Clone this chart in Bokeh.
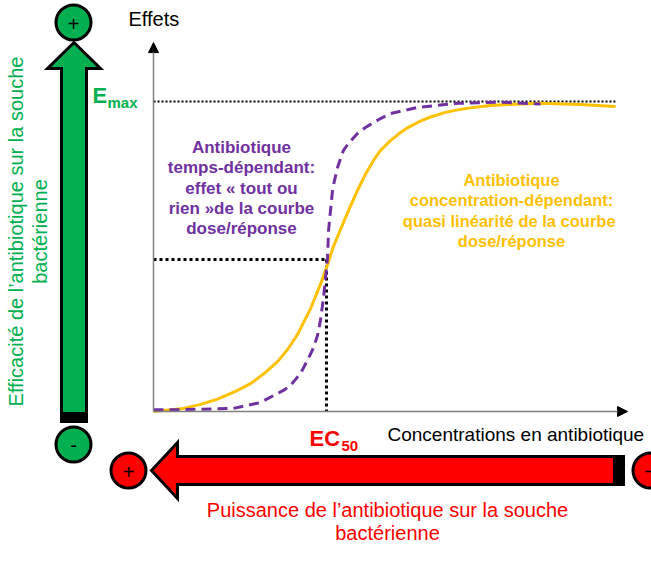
import numpy as np
from bokeh.plotting import figure
from bokeh.models import Range1d, Arrow, NormalHead
from bokeh.embed import file_html
from bokeh.resources import INLINE
from bokeh.core.properties import value

# ---------------- data (concentration in arbitrary units, effect in %) ----------------
conc_time = [0.0, 1.73, 4.62, 6.18, 7.51, 7.92, 8.50, 8.90, 9.25, 9.48, 9.65, 9.83, 10.06,
             10.12, 10.23, 10.35, 10.46, 10.64, 10.81, 10.98, 11.27, 11.79, 12.25, 12.72,
             13.12, 13.70, 15.26, 17.57, 20.06, 22.37]
effect_time = [0.6, 0.6, 1.0, 2.9, 6.8, 8.4, 12.3, 16.5, 20.6, 24.5, 29.4, 36.8, 49.7,
               58.4, 64.8, 71.3, 74.5, 78.7, 81.6, 84.2, 86.5, 89.7, 91.6, 93.2,
               94.5, 96.1, 98.1, 99.4, 99.8, 99.2]

conc_conc = [0.0, 1.73, 2.72, 3.70, 4.74, 5.61, 6.47, 7.17, 7.75, 8.32, 9.08, 9.65, 10.06,
             10.40, 10.81, 11.27, 11.79, 12.25, 12.72, 13.12, 13.70, 14.16, 14.68, 15.32,
             16.01, 16.88, 17.57, 18.50, 19.48, 20.46, 22.37, 24.68, 26.71]
effect_conc = [0.0, 1.0, 2.3, 4.0, 6.5, 9.0, 12.6, 16.1, 20.0, 24.8, 33.2, 41.0, 47.4,
               53.2, 58.7, 64.8, 71.3, 76.5, 81.0, 84.2, 87.4, 89.5, 91.5, 93.4,
               95.0, 96.5, 97.3, 98.1, 98.7, 99.0, 99.4, 99.0, 98.4]

EMAX = 100.0
EC50 = 10.0
E_HALF = 49.0
EMAX_LINE_END = 26.7
X_AXIS_END = 27.4
Y_AXIS_END = 119.0

y_label = "Effets"
x_label = "Concentrations en antibiotique"
time_label = ["Antibiotique", "temps-dépendant:", "effet « tout ou", "rien »de la courbe", "dose/réponse"]
conc_label = ["Antibiotique", "concentration-dépendant:", "quasi linéarité  de la courbe", "dose/réponse"]
green_label = ["Efficacité de l’antibiotique sur la souche", "bactérienne"]
red_label = ["Puissance de l’antibiotique sur la souche", "bactérienne"]

# ---------------- layout helpers (pixel -> data) ----------------
W, H = 651, 572
X0, Y0 = 153, 411
SX, SY = 17.3, 3.1


def cx(px):
    return (px - X0) / SX


def ey(py):
    return (Y0 - py) / SY


FONT = value("Liberation Sans")
GREEN = "#00B050"
RED = "#FF0000"
PURPLE = "#7030A0"
GOLD = "#FFC000"

p = figure(width=W, height=H, x_range=Range1d(cx(0), cx(W)), y_range=Range1d(ey(H), ey(0)),
           output_backend="svg", toolbar_location=None, min_border=0,
           x_axis_location=None, y_axis_location=None, outline_line_color=None,
           background_fill_color="white", border_fill_color="white")
p.grid.grid_line_color = None

# axes with arrow heads
p.add_layout(Arrow(end=NormalHead(size=10, fill_color="black", line_color="black"),
                   x_start=0, y_start=0, x_end=0, y_end=Y_AXIS_END,
                   line_color="#808080", line_width=1.5))
p.add_layout(Arrow(end=NormalHead(size=10, fill_color="black", line_color="black"),
                   x_start=0, y_start=0, x_end=X_AXIS_END, y_end=0,
                   line_color="#808080", line_width=1.5))

# reference dotted lines
p.line([0, EMAX_LINE_END], [EMAX, EMAX], line_color="black", line_width=2, line_dash="2 2")
p.line([0, EC50], [E_HALF, E_HALF], line_color="black", line_width=3, line_dash="3 3")
p.line([EC50, EC50], [E_HALF, 0], line_color="black", line_width=3, line_dash="3 3")

# curves
p.line(conc_conc, effect_conc, line_color=GOLD, line_width=3, line_join="round")
p.line(conc_time, effect_time, line_color=PURPLE, line_width=3, line_dash="10 6",
       line_join="round")

# green vertical arrow
gx = [61, 86, 86, 100, 73.5, 47, 61]
gy = [421, 421, 68, 68, 42, 68, 68]
p.patch([cx(v) for v in gx], [ey(v) for v in gy], fill_color=GREEN, line_color="black",
        line_width=3, line_join="miter")
p.quad(left=cx(61), right=cx(86), bottom=ey(421), top=ey(412), fill_color="black", line_color="black")

# red horizontal arrow
rx = [151, 177, 177, 623, 623, 177, 177]
ry = [470, 442, 456, 456, 484, 484, 498]
p.patch([cx(v) for v in rx], [ey(v) for v in ry], fill_color=RED, line_color="black",
        line_width=3, line_join="miter")
p.quad(left=cx(613), right=cx(623), bottom=ey(484), top=ey(456), fill_color="black", line_color="black")

# circles with signs
p.scatter([cx(73), cx(73)], [ey(22), ey(444)], marker="circle", size=35,
          fill_color=GREEN, line_color="black", line_width=3)
p.scatter([cx(128), cx(650)], [ey(470), ey(470)], marker="circle", size=35,
          fill_color=RED, line_color="black", line_width=3)
p.text([cx(73), cx(128)], [ey(23), ey(471)], text=["+", "+"], text_font=FONT,
       text_font_size="20px", text_align="center", text_baseline="middle", text_color="black")
p.text([cx(73)], [ey(444)], text=["-"], text_font=FONT,
       text_font_size="20px", text_align="center", text_baseline="middle", text_color="black")
# minus sign of the half-visible circle at the right edge
p.line([cx(645), cx(652)], [ey(471), ey(471)], line_color="black", line_width=1.5)

# axis titles
p.text([cx(128)], [ey(18)], text=[y_label], text_font=FONT, text_font_size="20px",
       text_align="left", text_baseline="middle", text_color="black")
p.text([cx(387)], [ey(434)], text=[x_label], text_font=FONT, text_font_size="19px",
       text_align="left", text_baseline="middle", text_color="black")

# EC50 and Emax
p.text([cx(309)], [ey(438)], text=["EC"], text_font=FONT, text_font_size="22px",
       text_font_style="bold", text_align="left", text_baseline="middle", text_color=RED)
p.text([cx(341)], [ey(445)], text=["50"], text_font=FONT, text_font_size="15px",
       text_font_style="bold", text_align="left", text_baseline="middle", text_color=RED)
p.text([cx(92)], [ey(95)], text=["E"], text_font=FONT, text_font_size="22px",
       text_font_style="bold", text_align="left", text_baseline="middle", text_color=GREEN)
p.text([cx(107)], [ey(102)], text=["max"], text_font=FONT, text_font_size="15px",
       text_font_style="bold", text_align="left", text_baseline="middle", text_color=GREEN)

# annotations in the plot
p.text([cx(241)] * len(time_label), [ey(147 + 20.3 * i) for i in range(len(time_label))],
       text=time_label, text_font=FONT, text_font_size="17px", text_font_style="bold",
       text_align="center", text_baseline="middle", text_color=PURPLE)
p.text([cx(511)] * len(conc_label), [ey(179 + 20.5 * i) for i in range(len(conc_label))],
       text=conc_label, text_font=FONT, text_font_size="16.5px", text_font_style="bold",
       text_align="center", text_baseline="middle", text_color=GOLD)

# green vertical label
p.text([cx(15), cx(39)], [ey(231), ey(231)], text=green_label, angle=np.pi / 2,
       text_font=FONT, text_font_size="20px", text_align="center", text_baseline="middle",
       text_color=GREEN)

# red label
p.text([cx(387), cx(387)], [ey(509), ey(532)], text=red_label, text_font=FONT,
       text_font_size="20px", text_align="center", text_baseline="middle", text_color=RED)

with open("out.html", "w") as f:
    f.write(file_html(p, INLINE))
